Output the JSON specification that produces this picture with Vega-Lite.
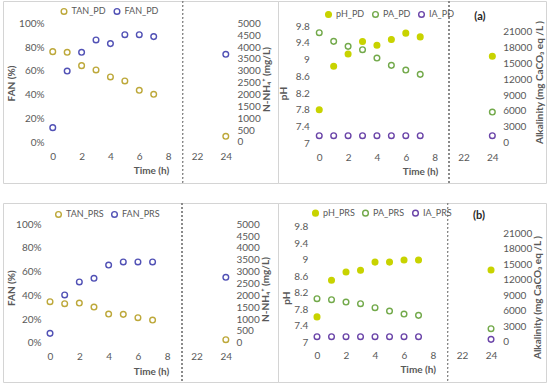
{
  "$schema": "https://vega.github.io/schema/vega-lite/v6.json",
  "padding": {"left": 2, "top": 0, "right": 0, "bottom": 0},
  "background": "white",
  "columns": 2,
  "spacing": {"row": 20, "column": 0},
  "bounds": "flush",
  "datasets": {
    "pd_n": [
      {"s": "FAN_PD", "t": 0, "v": 0.121}, {"s": "FAN_PD", "t": 1, "v": 0.598}, {"s": "FAN_PD", "t": 2, "v": 0.756},
      {"s": "FAN_PD", "t": 3, "v": 0.860}, {"s": "FAN_PD", "t": 4, "v": 0.829}, {"s": "FAN_PD", "t": 5, "v": 0.904},
      {"s": "FAN_PD", "t": 6, "v": 0.904}, {"s": "FAN_PD", "t": 7, "v": 0.888}, {"s": "FAN_PD", "t": 24, "v": 0.739},
      {"s": "TAN_PD", "t": 0, "v": 3806}, {"s": "TAN_PD", "t": 1, "v": 3778}, {"s": "TAN_PD", "t": 2, "v": 3216},
      {"s": "TAN_PD", "t": 3, "v": 3034}, {"s": "TAN_PD", "t": 4, "v": 2739}, {"s": "TAN_PD", "t": 5, "v": 2570},
      {"s": "TAN_PD", "t": 6, "v": 2177}, {"s": "TAN_PD", "t": 7, "v": 2008}, {"s": "TAN_PD", "t": 24, "v": 239}
    ],
    "prs_n": [
      {"s": "FAN_PRS", "t": 0, "v": 0.079}, {"s": "FAN_PRS", "t": 1, "v": 0.403}, {"s": "FAN_PRS", "t": 2, "v": 0.513},
      {"s": "FAN_PRS", "t": 3, "v": 0.544}, {"s": "FAN_PRS", "t": 4, "v": 0.656}, {"s": "FAN_PRS", "t": 5, "v": 0.682},
      {"s": "FAN_PRS", "t": 6, "v": 0.682}, {"s": "FAN_PRS", "t": 7, "v": 0.682}, {"s": "FAN_PRS", "t": 24, "v": 0.552},
      {"s": "TAN_PRS", "t": 0, "v": 1732}, {"s": "TAN_PRS", "t": 1, "v": 1648}, {"s": "TAN_PRS", "t": 2, "v": 1676},
      {"s": "TAN_PRS", "t": 3, "v": 1507}, {"s": "TAN_PRS", "t": 4, "v": 1211}, {"s": "TAN_PRS", "t": 5, "v": 1197},
      {"s": "TAN_PRS", "t": 6, "v": 1056}, {"s": "TAN_PRS", "t": 7, "v": 958}, {"s": "TAN_PRS", "t": 24, "v": 127}
    ],
    "pd_a": [
      {"s": "pH_PD", "t": 0, "v": 7.80}, {"s": "pH_PD", "t": 1, "v": 8.84}, {"s": "pH_PD", "t": 2, "v": 9.13},
      {"s": "pH_PD", "t": 3, "v": 9.43}, {"s": "pH_PD", "t": 4, "v": 9.34}, {"s": "pH_PD", "t": 5, "v": 9.48},
      {"s": "pH_PD", "t": 6, "v": 9.63}, {"s": "pH_PD", "t": 7, "v": 9.54}, {"s": "pH_PD", "t": 24, "v": 9.08},
      {"s": "PA_PD", "t": 0, "v": 20811}, {"s": "PA_PD", "t": 1, "v": 19171}, {"s": "PA_PD", "t": 2, "v": 18225},
      {"s": "PA_PD", "t": 3, "v": 17595}, {"s": "PA_PD", "t": 4, "v": 16018}, {"s": "PA_PD", "t": 5, "v": 14631},
      {"s": "PA_PD", "t": 6, "v": 13748}, {"s": "PA_PD", "t": 7, "v": 12928}, {"s": "PA_PD", "t": 24, "v": 5802},
      {"s": "IA_PD", "t": 0, "v": 1324}, {"s": "IA_PD", "t": 1, "v": 1324}, {"s": "IA_PD", "t": 2, "v": 1324},
      {"s": "IA_PD", "t": 3, "v": 1324}, {"s": "IA_PD", "t": 4, "v": 1324}, {"s": "IA_PD", "t": 5, "v": 1324},
      {"s": "IA_PD", "t": 6, "v": 1324}, {"s": "IA_PD", "t": 7, "v": 1324}, {"s": "IA_PD", "t": 24, "v": 1324}
    ],
    "prs_a": [
      {"s": "pH_PRS", "t": 0, "v": 7.61}, {"s": "pH_PRS", "t": 1, "v": 8.50}, {"s": "pH_PRS", "t": 2, "v": 8.70},
      {"s": "pH_PRS", "t": 3, "v": 8.74}, {"s": "pH_PRS", "t": 4, "v": 8.94}, {"s": "pH_PRS", "t": 5, "v": 8.94},
      {"s": "pH_PRS", "t": 6, "v": 8.99}, {"s": "pH_PRS", "t": 7, "v": 8.99}, {"s": "pH_PRS", "t": 24, "v": 8.75},
      {"s": "PA_PRS", "t": 0, "v": 8335}, {"s": "PA_PRS", "t": 1, "v": 8142}, {"s": "PA_PRS", "t": 2, "v": 7689},
      {"s": "PA_PRS", "t": 3, "v": 7366}, {"s": "PA_PRS", "t": 4, "v": 6591}, {"s": "PA_PRS", "t": 5, "v": 5945},
      {"s": "PA_PRS", "t": 6, "v": 5363}, {"s": "PA_PRS", "t": 7, "v": 5105}, {"s": "PA_PRS", "t": 24, "v": 2520},
      {"s": "IA_PRS", "t": 0, "v": 969}, {"s": "IA_PRS", "t": 1, "v": 969}, {"s": "IA_PRS", "t": 2, "v": 969},
      {"s": "IA_PRS", "t": 3, "v": 969}, {"s": "IA_PRS", "t": 4, "v": 969}, {"s": "IA_PRS", "t": 5, "v": 969},
      {"s": "IA_PRS", "t": 6, "v": 969}, {"s": "IA_PRS", "t": 7, "v": 969}, {"s": "IA_PRS", "t": 24, "v": 452}
    ],
    "tags": [{"panel": "a", "label": "(a)", "tx": 11.14, "ty": 10.015}, {"panel": "b", "label": "(b)", "tx": 11.17, "ty": 10.06}]
  },
  "concat": [
    {
      "width": 275, "height": 182,
      "data": {"name": "pd_n"},
      "transform": [{"calculate": "datum.t > 12 ? datum.t - 12 : datum.t", "as": "xp"}],
      "layer": [
        {"mark": {"type": "rule", "strokeDash": [1.5, 2.5], "color": "#8A8A8A", "strokeWidth": 1},
         "encoding": {"x": {"datum": 9, "type": "quantitative"}}},
        {"transform": [{"filter": "datum.s == 'FAN_PD'"}],
         "mark": {"type": "point", "shape": "circle", "filled": false, "size": 32, "strokeWidth": 1.4, "opacity": 1},
         "encoding": {
           "x": {"field": "xp", "type": "quantitative", "scale": {"domain": [-3.45, 15.62], "nice": false, "zero": false},
                 "axis": {"orient": "bottom", "offset": -34, "values": [0, 2, 4, 6, 8, 10, 12], "labelExpr": "datum.value >= 10 ? datum.value + 12 : datum.value", "title": "Time (h)", "titleX": 148, "titleY": 21, "titleBaseline": "middle"}},
           "y": {"field": "v", "type": "quantitative", "scale": {"domain": [-0.3454, 1.1879], "nice": false, "zero": false},
                 "axis": {"orient": "left", "offset": -43, "values": [0, 0.2, 0.4, 0.6, 0.8, 1], "format": ".0%", "title": "FAN (%)", "titleX": -34.3, "titleY": 82, "titleBaseline": "middle", "titleAngle": 270}},
           "color": {"field": "s", "type": "nominal", "scale": {"domain": ["TAN_PD", "FAN_PD"], "range": ["#BDA83A", "#5151B5"]},
                     "legend": {"orient": "none", "legendX": 56.5, "legendY": 5.5, "direction": "horizontal", "title": null, "columnPadding": 4,
                                "encode": {"symbols": {"update": {"stroke": {"signal": "datum.value === 'TAN_PD' ? '#EE8244' : '#4F62B8'"}}}}}}
         }},
        {"transform": [{"filter": "datum.s == 'TAN_PD'"}],
         "mark": {"type": "point", "shape": "circle", "filled": false, "size": 32, "strokeWidth": 1.4, "opacity": 1},
         "encoding": {
           "x": {"field": "xp", "type": "quantitative"},
           "y": {"field": "v", "type": "quantitative", "scale": {"domain": [-1727, 5939], "nice": false, "zero": false},
                 "axis": {"orient": "right", "offset": -43, "values": [0, 500, 1000, 1500, 2000, 2500, 3000, 3500, 4000, 4500, 5000], "format": "d", "title": "N-NH₄⁺ (mg/L)", "titleX": 31, "titleY": 78, "titleBaseline": "middle", "titleAngle": 270}},
           "color": {"field": "s", "type": "nominal"}
         }}
      ],
      "resolve": {"scale": {"y": "independent"}}
    },
    {
      "width": 268, "height": 182,
      "data": {"name": "pd_a"},
      "transform": [{"calculate": "datum.t > 12 ? datum.t - 12 : datum.t", "as": "xp"}],
      "layer": [
        {"mark": {"type": "rule", "strokeDash": [1.5, 2.5], "color": "#8A8A8A", "strokeWidth": 1},
         "encoding": {"x": {"datum": 9, "type": "quantitative"}}},
        {"transform": [{"filter": "datum.s == 'pH_PD'"}],
         "mark": {"type": "point", "shape": "circle", "filled": true, "size": 32, "strokeWidth": 1.4, "opacity": 1},
         "encoding": {
           "x": {"field": "xp", "type": "quantitative", "scale": {"domain": [-2.86, 15.72], "nice": false, "zero": false},
                 "axis": {"orient": "bottom", "offset": -32.3, "values": [0, 2, 4, 6, 8, 10, 12], "labelExpr": "datum.value >= 10 ? datum.value + 12 : datum.value", "title": "Time (h)", "titleX": 142, "titleY": 20.3, "titleBaseline": "middle"}},
           "y": {"field": "v", "type": "quantitative", "scale": {"domain": [6.0523, 10.397], "nice": false, "zero": false},
                 "axis": {"orient": "left", "offset": -33.3, "values": [7, 7.4, 7.8, 8.2, 8.6, 9, 9.4, 9.8], "format": "~g", "title": "pH", "titleX": -28.3, "titleY": 92, "titleBaseline": "middle", "titleAngle": 270}},
           "fill": {"field": "s", "type": "nominal", "scale": {"domain": ["pH_PD", "PA_PD", "IA_PD"], "range": ["#C8D300", "transparent", "transparent"]},
                    "legend": {"orient": "none", "legendX": 46, "legendY": 8.5, "direction": "horizontal", "title": null, "columnPadding": 4}},
           "stroke": {"field": "s", "type": "nominal", "scale": {"domain": ["pH_PD", "PA_PD", "IA_PD"], "range": ["#C8D300", "#72A94A", "#6A44A8"]},
                      "legend": {"orient": "none", "legendX": 46, "legendY": 8.5, "direction": "horizontal", "title": null, "columnPadding": 4}}
         }},
        {"data": {"name": "tags"},
         "transform": [{"filter": "datum.panel == 'a'"}],
         "mark": {"type": "text", "fontWeight": "bold", "fontSize": 11, "color": "#262626", "align": "center", "baseline": "middle"},
         "encoding": {
           "text": {"field": "label"},
           "x": {"field": "tx", "type": "quantitative"},
           "y": {"field": "ty", "type": "quantitative", "scale": {"domain": [6.0523, 10.397], "nice": false, "zero": false}, "axis": null}}},
        {"transform": [{"filter": "datum.s != 'pH_PD'"}],
         "mark": {"type": "point", "shape": "circle", "filled": true, "size": 32, "strokeWidth": 1.4, "opacity": 1},
         "encoding": {
           "x": {"field": "xp", "type": "quantitative"},
           "y": {"field": "v", "type": "quantitative", "scale": {"domain": [-7624, 26807], "nice": false, "zero": false},
                 "axis": {"orient": "right", "offset": -45.3, "values": [0, 3000, 6000, 9000, 12000, 15000, 18000, 21000], "format": "d", "title": "Alkalinity (mg CaCO₃ eq /L )", "titleX": 38.3, "titleY": 81, "titleBaseline": "middle", "titleAngle": 270}},
           "fill": {"field": "s", "type": "nominal"},
           "stroke": {"field": "s", "type": "nominal"}
         }}
      ],
      "resolve": {"scale": {"y": "independent"}}
    },
    {
      "width": 275, "height": 179,
      "data": {"name": "prs_n"},
      "transform": [{"calculate": "datum.t > 12 ? datum.t - 12 : datum.t", "as": "xp"}],
      "layer": [
        {"mark": {"type": "rule", "strokeDash": [1.5, 2.5], "color": "#8A8A8A", "strokeWidth": 1},
         "encoding": {"x": {"datum": 9, "type": "quantitative"}}},
        {"transform": [{"filter": "datum.s == 'FAN_PRS'"}],
         "mark": {"type": "point", "shape": "circle", "filled": false, "size": 32, "strokeWidth": 1.4, "opacity": 1},
         "encoding": {
           "x": {"field": "xp", "type": "quantitative", "scale": {"domain": [-3.21, 15.56], "nice": false, "zero": false},
                 "axis": {"orient": "bottom", "offset": -33, "values": [0, 2, 4, 6, 8, 10, 12], "labelExpr": "datum.value >= 10 ? datum.value + 12 : datum.value", "title": "Time (h)", "titleX": 148, "titleY": 22, "titleBaseline": "middle"}},
           "y": {"field": "v", "type": "quantitative", "scale": {"domain": [-0.3319, 1.1799], "nice": false, "zero": false},
                 "axis": {"orient": "left", "offset": -40, "values": [0, 0.2, 0.4, 0.6, 0.8, 1], "format": ".0%", "title": "FAN (%)", "titleX": -32, "titleY": 84.7, "titleBaseline": "middle", "titleAngle": 270}},
           "color": {"field": "s", "type": "nominal", "scale": {"domain": ["TAN_PRS", "FAN_PRS"], "range": ["#BDA83A", "#5151B5"]},
                     "legend": {"orient": "none", "legendX": 51, "legendY": 6.5, "direction": "horizontal", "title": null, "columnPadding": 4}}
         }},
        {"transform": [{"filter": "datum.s == 'TAN_PRS'"}],
         "mark": {"type": "point", "shape": "circle", "filled": false, "size": 32, "strokeWidth": 1.4, "opacity": 1},
         "encoding": {
           "x": {"field": "xp", "type": "quantitative"},
           "y": {"field": "v", "type": "quantitative", "scale": {"domain": [-1660, 5900], "nice": false, "zero": false},
                 "axis": {"orient": "right", "offset": -44, "values": [0, 500, 1000, 1500, 2000, 2500, 3000, 3500, 4000, 4500, 5000], "format": "d", "title": "N-NH₄⁺ (mg/L)", "titleX": 31, "titleY": 86, "titleBaseline": "middle", "titleAngle": 270}},
           "color": {"field": "s", "type": "nominal"}
         }}
      ],
      "resolve": {"scale": {"y": "independent"}}
    },
    {
      "width": 268, "height": 179,
      "data": {"name": "prs_a"},
      "transform": [{"calculate": "datum.t > 12 ? datum.t - 12 : datum.t", "as": "xp"}],
      "layer": [
        {"mark": {"type": "rule", "strokeDash": [1.5, 2.5], "color": "#8A8A8A", "strokeWidth": 1},
         "encoding": {"x": {"datum": 9, "type": "quantitative"}}},
        {"transform": [{"filter": "datum.s == 'pH_PRS'"}],
         "mark": {"type": "point", "shape": "circle", "filled": true, "size": 32, "strokeWidth": 1.4, "opacity": 1},
         "encoding": {
           "x": {"field": "xp", "type": "quantitative", "scale": {"domain": [-2.69, 15.79], "nice": false, "zero": false},
                 "axis": {"orient": "bottom", "offset": -33.7, "values": [0, 2, 4, 6, 8, 10, 12], "labelExpr": "datum.value >= 10 ? datum.value + 12 : datum.value", "title": "Time (h)", "titleX": 139.7, "titleY": 21, "titleBaseline": "middle"}},
           "y": {"field": "v", "type": "quantitative", "scale": {"domain": [6.0287, 10.3754], "nice": false, "zero": false},
                 "axis": {"orient": "left", "offset": -31.7, "values": [7, 7.4, 7.8, 8.2, 8.6, 9, 9.4, 9.8], "format": "~g", "title": "pH", "titleX": -23.7, "titleY": 94.7, "titleBaseline": "middle", "titleAngle": 270}},
           "fill": {"field": "s", "type": "nominal", "scale": {"domain": ["pH_PRS", "PA_PRS", "IA_PRS"], "range": ["#C8D300", "transparent", "transparent"]},
                    "legend": {"orient": "none", "legendX": 33, "legendY": 5.2, "direction": "horizontal", "title": null, "columnPadding": 4}},
           "stroke": {"field": "s", "type": "nominal", "scale": {"domain": ["pH_PRS", "PA_PRS", "IA_PRS"], "range": ["#C8D300", "#72A94A", "#6A44A8"]},
                      "legend": {"orient": "none", "legendX": 33, "legendY": 5.2, "direction": "horizontal", "title": null, "columnPadding": 4}}
         }},
        {"data": {"name": "tags"},
         "transform": [{"filter": "datum.panel == 'b'"}],
         "mark": {"type": "text", "fontWeight": "bold", "fontSize": 11, "color": "#262626", "align": "center", "baseline": "middle"},
         "encoding": {
           "text": {"field": "label"},
           "x": {"field": "tx", "type": "quantitative"},
           "y": {"field": "ty", "type": "quantitative", "scale": {"domain": [6.0287, 10.3754], "nice": false, "zero": false}, "axis": null}}},
        {"transform": [{"filter": "datum.s != 'pH_PRS'"}],
         "mark": {"type": "point", "shape": "circle", "filled": true, "size": 32, "strokeWidth": 1.4, "opacity": 1},
         "encoding": {
           "x": {"field": "xp", "type": "quantitative"},
           "y": {"field": "v", "type": "quantitative", "scale": {"domain": [-7807, 26870], "nice": false, "zero": false},
                 "axis": {"orient": "right", "offset": -45.3, "values": [0, 3000, 6000, 9000, 12000, 15000, 18000, 21000], "format": "d", "title": "Alkalinity (mg CaCO₃ eq /L )", "titleX": 37, "titleY": 94, "titleBaseline": "middle", "titleAngle": 270}},
           "fill": {"field": "s", "type": "nominal"},
           "stroke": {"field": "s", "type": "nominal"}
         }}
      ],
      "resolve": {"scale": {"y": "independent"}}
    }
  ],
  "resolve": {
    "scale": {"x": "independent", "y": "independent", "color": "independent", "fill": "independent", "stroke": "independent"},
    "legend": {"color": "independent", "fill": "independent", "stroke": "independent"},
    "axis": {"x": "independent", "y": "independent"}
  },
  "config": {
    "font": "Lato",
    "view": {"stroke": "#D4D4D4", "strokeWidth": 1},
    "axis": {"grid": false, "domain": false, "ticks": false, "labelColor": "#595959", "labelFontSize": 10, "labelPadding": 2,
             "titleColor": "#595959", "titleFontSize": 10, "titleFontWeight": "bold", "labelOverlap": false, "labelFlush": false, "labelBound": false},
    "legend": {"padding": 0, "symbolSize": 32, "symbolStrokeWidth": 1.4, "symbolType": "circle", "labelFontSize": 9, "labelColor": "#595959", "labelOffset": 3},
    "title": {"font": "Lato"}
  }
}
